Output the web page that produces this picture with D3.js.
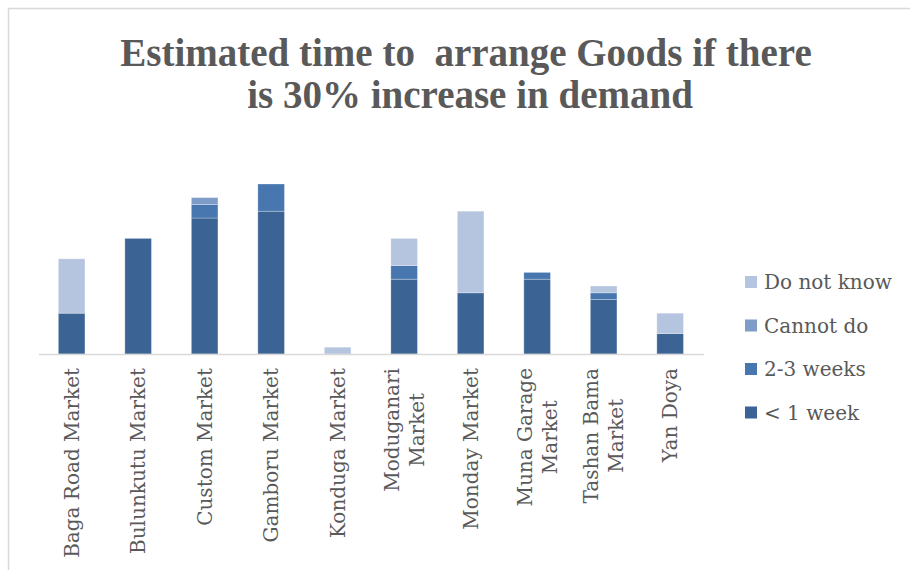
<!DOCTYPE html>
<html><head><meta charset="utf-8">
<script src="https://cdn.jsdelivr.net/npm/d3@7"></script>
<style>
html,body{margin:0;padding:0;background:#fff;}
svg{display:block;}
</style></head>
<body>
<svg id="chart" width="910" height="570"></svg>
<script>
const categories = [
  ["Baga Road Market"],
  ["Bulunkutu Market"],
  ["Custom Market"],
  ["Gamboru Market"],
  ["Konduga Market"],
  ["Moduganari", "Market"],
  ["Monday Market"],
  ["Muna Garage", "Market"],
  ["Tashan Bama", "Market"],
  ["Yan Doya"]
];
const seriesNames = ["< 1 week", "2-3 weeks", "Cannot do", "Do not know"];
const lessThan1Week = [6, 17, 20, 21, 0, 11, 9, 11, 8, 3];
const twoToThreeWeeks = [0, 0, 2, 4, 0, 2, 0, 1, 1, 0];
const cannotDo = [0, 0, 1, 0, 0, 0, 0, 0, 0, 0];
const doNotKnow = [8, 0, 0, 0, 1, 4, 12, 0, 1, 3];
const colors = ["#3b6494", "#4877b0", "#7f9bc8", "#b5c4df"];
const titleLines = ["Estimated time to  arrange Goods if there", "is 30% increase in demand"];

const svg = d3.select("#chart");
const textColor = "#595959";

// outer border
svg.append("rect").attr("x", 8.5).attr("y", 8.5).attr("width", 920).attr("height", 600)
  .attr("fill", "#fff").attr("stroke", "#d9d9d9").attr("stroke-width", 1.5);

// title
const title = svg.append("text").attr("text-anchor", "middle")
  .attr("font-family", "'Liberation Serif', serif").attr("font-weight", "bold")
  .attr("font-size", 39).attr("fill", textColor).style("white-space", "pre");
title.append("tspan").attr("x", 466).attr("y", 66).text(titleLines[0]);
title.append("tspan").attr("x", 470).attr("y", 108).text(titleLines[1]);

const rows = categories.map((c, i) => ({
  key: c.join(" "),
  "< 1 week": lessThan1Week[i],
  "2-3 weeks": twoToThreeWeeks[i],
  "Cannot do": cannotDo[i],
  "Do not know": doNotKnow[i]
}));

const x = d3.scaleBand().domain(rows.map(d => d.key)).range([38.4, 703.4])
  .paddingInner(0.6).paddingOuter(0.3);
const y = d3.scaleLinear().domain([0, 30]).range([354, 150]);
const color = d3.scaleOrdinal().domain(seriesNames).range(colors);

const stack = d3.stack().keys(seriesNames)(rows);

svg.append("g").selectAll("g").data(stack).join("g")
  .attr("fill", d => color(d.key))
  .selectAll("rect").data(d => d.filter(p => p[1] - p[0] > 0)).join("rect")
  .attr("x", d => x(d.data.key))
  .attr("width", x.bandwidth())
  .attr("y", d => y(d[1]))
  .attr("height", d => y(d[0]) - y(d[1]))
  .attr("stroke", "rgba(255,255,255,0.35)").attr("stroke-width", 0.8);

// baseline axis
const xAxis = svg.append("g").attr("transform", "translate(0,354)")
  .call(d3.axisBottom(x).tickSize(0).tickFormat(""));
xAxis.select(".domain").attr("stroke", "#d9d9d9").attr("stroke-width", 1.5);

// category labels
const lineH = 25;
categories.forEach((lines, i) => {
  const cx = x(rows[i].key) + x.bandwidth() / 2;
  const n = lines.length;
  const g = svg.append("text").attr("class", "catlabel")
    .attr("font-family", "'DejaVu Serif', serif").attr("font-size", 20)
    .attr("fill", textColor)
    .attr("transform", `translate(${cx},368) rotate(-90)`);
  lines.forEach((t, j) => {
    g.append("tspan")
      .attr("x", 0).attr("y", (j - (n - 1) / 2) * lineH + 7)
      .text(t);
  });
});
// right-align block at the top, center lines inside it
svg.selectAll("text.catlabel").each(function() {
  const tsp = d3.select(this).selectAll("tspan");
  const ws = [];
  tsp.each(function() { ws.push(this.getComputedTextLength()); });
  const maxW = d3.max(ws);
  tsp.each(function(_, j) { d3.select(this).attr("x", -maxW + (maxW - ws[j]) / 2); });
});

// legend
const legendOrder = ["Do not know", "Cannot do", "2-3 weeks", "< 1 week"];
const lg = svg.append("g");
legendOrder.forEach((k, i) => {
  const yy = 282 + i * 43.5;
  lg.append("rect").attr("x", 745).attr("y", yy - 6).attr("width", 12).attr("height", 12).attr("fill", color(k));
  lg.append("text").attr("x", 764).attr("y", yy + 7)
    .attr("font-family", "'DejaVu Serif', serif").attr("font-size", 20)
    .attr("fill", textColor).text(k);
});
</script>
</body></html>
